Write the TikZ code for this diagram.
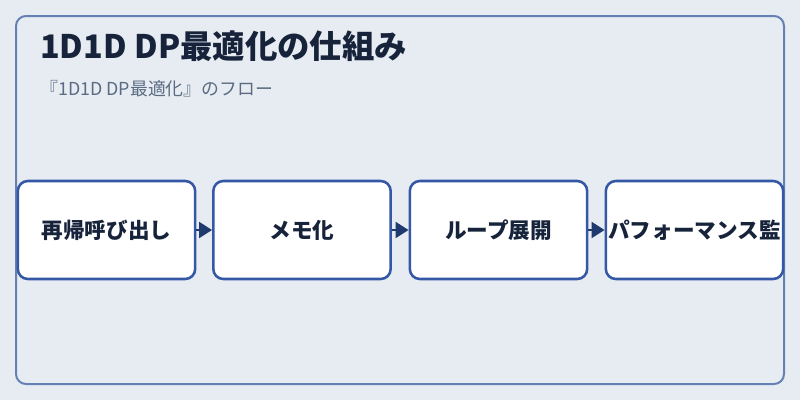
\documentclass[tikz,border=0pt]{standalone}
\usepackage{fontspec}
\setmainfont{Noto Sans CJK JP}
\usepackage{xcolor}
\usepackage{tikz}
\usetikzlibrary{arrows.meta}
\usetikzlibrary{positioning}
\definecolor{bgcol}{HTML}{E7ECF2}
\definecolor{framecol}{HTML}{6580B3}
\definecolor{boxcol}{HTML}{3558A6}
\definecolor{arrcol}{HTML}{1F3A6E}
\definecolor{titlecol}{HTML}{16233A}
\definecolor{subcol}{HTML}{5A6B82}
\tikzset{
	stage/.style={draw=boxcol,line width=1.9pt,fill=white,rounded corners=7.5pt,
		minimum width=133pt,minimum height=73.5pt,inner sep=0pt,
		font=\bfseries\fontsize{16.2}{19}\selectfont,text=titlecol},
	flow/.style={arrcol,line width=1.5pt,-{Triangle[length=9.75pt,width=12pt]}}
}

\begin{document}
\begin{tikzpicture}[x=0.75pt,y=-0.75pt]
		\fill[bgcol] (0,0) rectangle (800,400);
		\draw[framecol,line width=1.5pt,rounded corners=7.5pt] (16,16) rectangle (784,384);
		% title and subtitle
		\node[anchor=base west,inner sep=0pt,text=titlecol,font=\bfseries\fontsize{24.3}{29}\selectfont] (title) at (40,58) {1D1D DP最適化の仕組み};
		\node[anchor=base west,inner sep=0pt,text=subcol,font=\fontsize{13.4}{16}\selectfont] (subtitle) at (40,95) {『1D1D DP最適化』のフロー};
		% stages
		\node[stage] (recur) at (106.5,230) {再帰呼び出し};
		\node[stage] (memo) at (302,230) {メモ化};
		\node[stage] (unroll) at (498.5,230) {ループ展開};
		\node[stage] (perf) at (694.5,230) {パフォーマンス監};
		\draw[flow] (recur) -- (memo);
		\draw[flow] (memo) -- (unroll);
		\draw[flow] (unroll) -- (perf);
\end{tikzpicture}
\end{document}
